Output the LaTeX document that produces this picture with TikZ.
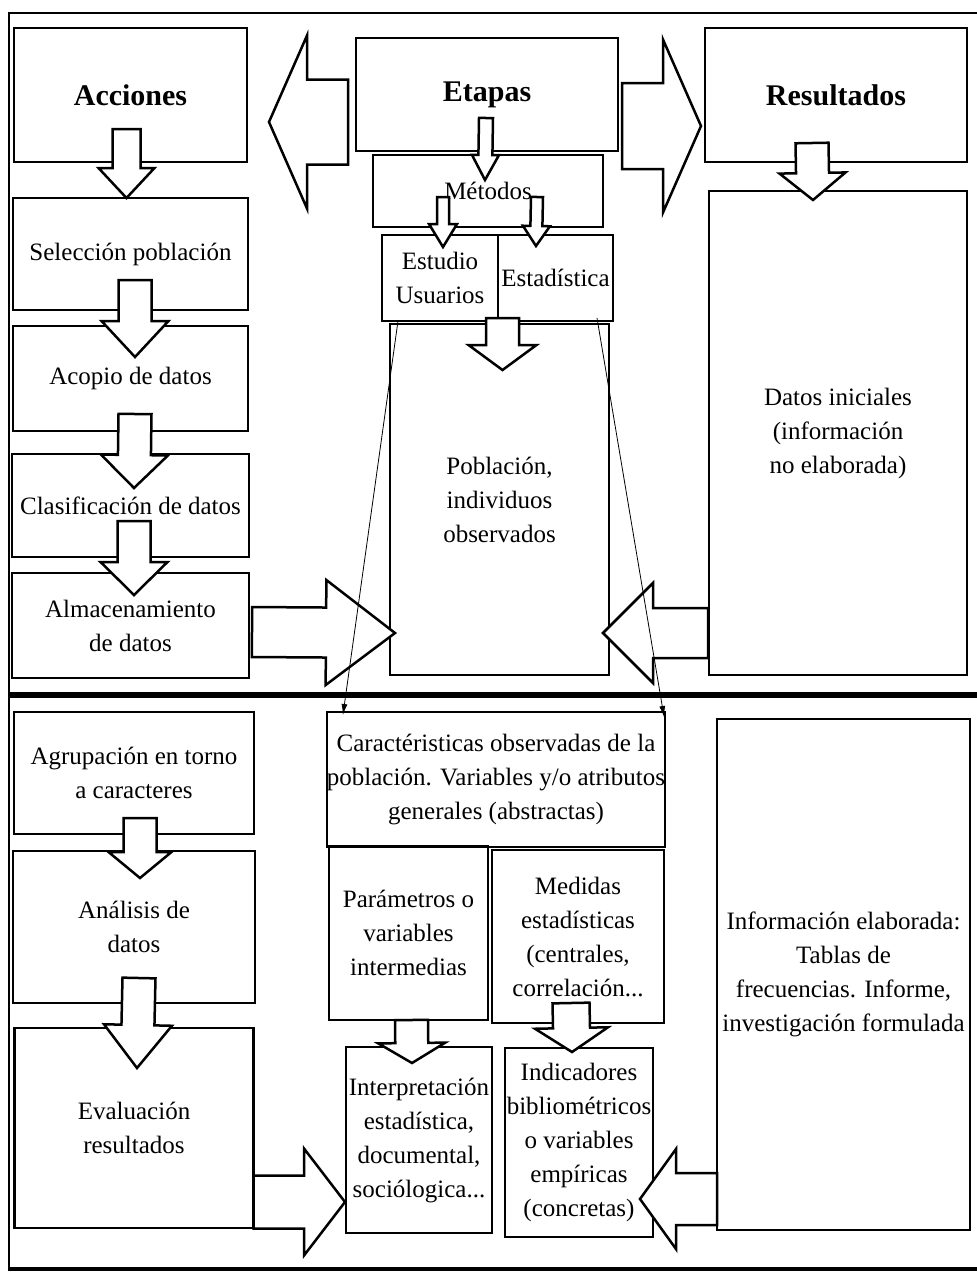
\documentclass[tikz,border=0pt]{standalone}
\usepackage{fontspec}
\setmainfont{Liberation Serif}
\usetikzlibrary{positioning,calc,arrows.meta}

% hollow block arrow: tail, tip, shaft half width, head half width, head length
\newcommand{\blockarr}[5]{%
  \coordinate (ba-t) at (#1);
  \coordinate (ba-h) at (#2);
  \coordinate (ba-b) at ($(ba-h)!#5!(ba-t)$);
  \draw[blockarrow] ($(ba-t)!#3!90:(ba-h)$) -- ($(ba-b)!#3!90:(ba-h)$)
    -- ($(ba-b)!#4!90:(ba-h)$) -- (ba-h) -- ($(ba-b)!#4!-90:(ba-h)$)
    -- ($(ba-b)!#3!-90:(ba-h)$) -- ($(ba-t)!#3!-90:(ba-h)$) -- cycle;}

\begin{document}
\begin{tikzpicture}[x=1pt, y=-1pt,
    box/.style={draw, line width=2.5pt, align=center, inner sep=0pt, outer sep=0pt,
      font=\fontsize{25pt}{34pt}\selectfont},
    head/.style={box, font=\fontsize{30pt}{36pt}\selectfont\bfseries},
    blockarrow/.style={draw, fill=white, line width=2.5pt},
    link/.style={line width=0.8pt, -{Latex[length=11pt,width=6pt]}}]
  \useasboundingbox (0,0) rectangle (977,1275);

  % frame and divider
  \draw[line width=2pt] (977,13) -- (9,13) -- (9,1268);
  \draw[line width=4pt] (8,1269) -- (977,1269);
  \draw[line width=6pt] (9,695) -- (977,695);

  % headers
  \node[head, minimum width=233pt, minimum height=134pt] (acc) at (130.5,95) {Acciones};
  \node[head, minimum width=262pt, minimum height=113pt] (eta) at (487,94.5) {Etapas};
  \node[head, minimum width=262pt, minimum height=134pt] (res) at (836,95) {Resultados};

  % acciones, upper part
  \node[box, minimum width=235pt, minimum height=112pt, below=36pt of acc] (sel) {Selección población};
  \node[box, minimum width=235pt, minimum height=105pt, below=16pt of sel] (aco) {Acopio de datos};
  \node[box, minimum width=237pt, minimum height=103pt, below=23pt of aco] (cla) {Clasificación de datos};
  \node[box, minimum width=237pt, minimum height=105pt, below=16pt of cla] (alm) {Almacenamiento\\de datos};

  % etapas, upper part
  \node[box, minimum width=230pt, minimum height=72pt] (met) at (488,191) {Métodos};
  \node[box, minimum width=116pt, minimum height=86pt] (est) at (440,278) {Estudio\\Usuarios};
  \node[box, minimum width=115pt, minimum height=86pt, right=0pt of est] (sta) {Estadística};
  \node[box, minimum width=219pt, minimum height=351pt] (pob) at (499.5,499.5) {Población,\\individuos\\observados};
  \node[box, minimum width=258pt, minimum height=484pt] (dat) at (838,433) {Datos iniciales\\(información\\no elaborada)};

  % lower part
  \node[box, minimum width=240pt, minimum height=122pt] (agr) at (134,773) {Agrupación en torno\\a caracteres};
  \node[box, minimum width=242pt, minimum height=152pt, below=17pt of agr] (ana) {Análisis de\\datos};
  \node[box, minimum width=239pt, minimum height=200pt, below=25pt of ana] (eva) {Evaluación\\resultados};
  \node[box, minimum width=334pt, minimum height=135pt] (car) at (496,779.5)
    {Caractéristicas observadas de la\\población. Variables y/o atributos\\generales (abstractas)};
  \node[box, minimum width=159pt, minimum height=174pt] (par) at (408.5,933) {Parámetros o\\variables\\intermedias};
  \node[box, minimum width=172pt, minimum height=173pt] (med) at (578,936.5) {Medidas\\estadísticas\\(centrales,\\correlación...};
  \node[box, minimum width=146pt, minimum height=186pt] (int) at (419,1140)
    {Interpretación\\estadística,\\documental,\\sociólogica...};
  \node[box, minimum width=148pt, minimum height=189pt] (ind) at (579,1142.5)
    {Indicadores\\bibliométricos\\o variables\\empíricas\\(concretas)};
  \node[box, minimum width=253pt, minimum height=511pt] (inf) at (843.5,974.5)
    {Información elaborada:\\Tablas de\\frecuencias. Informe,\\investigación formulada};

  % block arrows
  \blockarr{[xshift=-4pt,yshift=33pt]acc.south}{[xshift=-4pt]sel.north}{14pt}{28pt}{30pt}
  \blockarr{[xshift=4.5pt,yshift=30pt]sel.south}{[xshift=4.5pt,yshift=-31pt]aco.north}{16.5pt}{33.5pt}{36pt}
  \blockarr{[xshift=4.5pt,yshift=17pt]aco.south}{[xshift=3.5pt,yshift=-34pt]cla.north}{16.5pt}{33.5pt}{33pt}
  \blockarr{[xshift=3.5pt,yshift=36pt]cla.south}{[xshift=3.5pt,yshift=-22pt]alm.north}{16.5pt}{33.5pt}{33pt}
  \blockarr{[xshift=6pt,yshift=16pt]agr.south}{[xshift=6pt,yshift=-27pt]ana.north}{16.5pt}{31.5pt}{26pt}
  \blockarr{[xshift=5pt,yshift=25pt]ana.south}{[xshift=3pt,yshift=-40pt]eva.north}{16.5pt}{34pt}{43pt}
  \blockarr{[xshift=-8pt,yshift=-27.5pt]eta.west}{[xshift=22pt,yshift=-27pt]acc.east}{42.5pt}{86.5pt}{38pt}
  \blockarr{[xshift=4pt,yshift=-31.5pt]eta.east}{[xshift=-4pt,yshift=-31pt]res.west}{43pt}{86.5pt}{38pt}
  \blockarr{[xshift=-24pt,yshift=19pt]res.south}{[xshift=-25pt,yshift=-9pt]dat.north}{16.5pt}{33pt}{27pt}
  \blockarr{[xshift=-1pt,yshift=33pt]eta.south}{[xshift=-3pt,yshift=-25pt]met.north}{7pt}{13.5pt}{25pt}
  \blockarr{[xshift=-45pt,yshift=30pt]met.south}{[xshift=3pt,yshift=-12pt]est.north}{6pt}{14pt}{23pt}
  \blockarr{[xshift=49pt,yshift=30pt]met.south}{[xshift=-19.5pt,yshift=-11pt]sta.north}{6pt}{13.5pt}{20pt}
  \blockarr{[xshift=3pt,yshift=6pt]pob.north}{[xshift=3pt,yshift=-46pt]pob.north}{16.5pt}{34pt}{25pt}
  \blockarr{[xshift=3pt,yshift=-6.5pt]alm.east}{[xshift=5pt,yshift=-133.5pt]pob.west}{25pt}{52.5pt}{69pt}
  \blockarr{[xshift=-1pt,yshift=-200pt]dat.west}{[xshift=-6pt,yshift=-133.5pt]pob.east}{25pt}{50pt}{50pt}
  \blockarr{[yshift=-74pt]eva.east}{[xshift=-1pt,yshift=-62pt]int.west}{26.5pt}{53.5pt}{41pt}
  \blockarr{[yshift=-224.5pt]inf.west}{[xshift=-13pt,yshift=-56.5pt]ind.east}{26pt}{50pt}{36pt}
  \blockarr{[xshift=3pt]par.south}{[xshift=-7pt,yshift=-16pt]int.north}{16.5pt}{33.5pt}{20pt}
  \blockarr{[xshift=-7pt,yshift=20pt]med.south}{[xshift=-7pt,yshift=-4pt]ind.north}{18.5pt}{36.5pt}{24pt}

  % thin links
  \draw[link] ([xshift=16pt]est.south west) -- ([xshift=16pt,yshift=-3pt]car.north west);
  \draw[link] ([xshift=-16pt,yshift=3pt]sta.south east) -- ([xshift=-1pt,yshift=-5pt]car.north east);
\end{tikzpicture}
\end{document}
